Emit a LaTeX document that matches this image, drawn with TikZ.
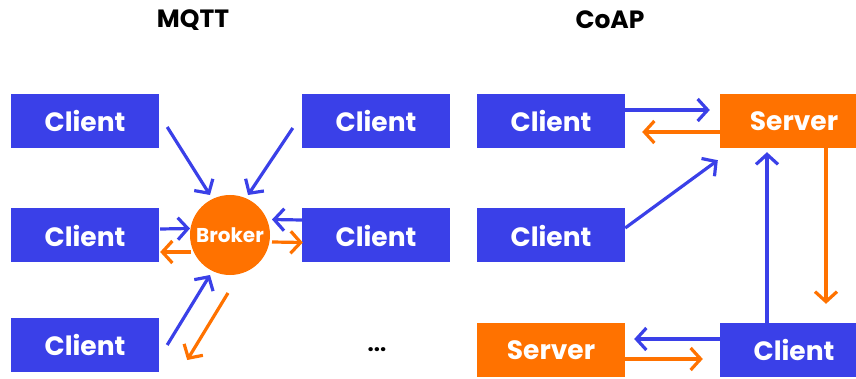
\documentclass[tikz,border=0pt]{standalone}
\usepackage{fontspec}
\setmainfont{Poppins}
\usetikzlibrary{arrows.meta,calc}
\definecolor{cblue}{RGB}{58,64,232}
\definecolor{corange}{RGB}{255,114,0}
\begin{document}
\begin{tikzpicture}[x=1pt,y=-1pt,
  box/.style={rectangle,minimum width=148pt,minimum height=54pt,inner sep=0pt,text=white,font=\fontsize{26.5}{28}\selectfont\bfseries},
  bluebox/.style={box,fill=cblue},
  orangebox/.style={box,fill=corange},
  title/.style={font=\fontsize{25}{28}\selectfont\bfseries,text=black},
  barrow/.style={draw=cblue,line width=3.2pt,-{Straight Barb[length=10pt,width=22pt,line width=3.2pt]}},
  oarrow/.style={draw=corange,line width=3.2pt,-{Straight Barb[length=10pt,width=22pt,line width=3.2pt]}}]
\useasboundingbox (0,0) rectangle (856,379);
\clip (0,0) rectangle (856,379);
% titles
\node[title] (tm) at (193,20) {MQTT};
\node[title] (tc) at (610,20) {CoAP};
% MQTT
\node[bluebox] (tl) at (85,121) {Client};
\node[bluebox] (ml) at (85,235.5) {Client};
\node[bluebox] (bl) at (85,345) {Client};
\node[bluebox] (tr) at (376,121) {Client};
\node[bluebox] (mr) at (376,235.5) {Client};
\node[circle,fill=corange,minimum size=80pt,inner sep=0pt,text=white,font=\fontsize{20}{22}\selectfont\bfseries] (br) at (230,235) {Broker};
\node[font=\fontsize{22}{24}\selectfont\bfseries] (dots) at (377,350) {...};
\draw[barrow] ($(tl.east)+(8,6)$) -- ($(br.center)+(-20,-40)$);
\draw[barrow] ($(tr.west)+(-9,7)$) -- ($(br.center)+(18,-40)$);
\draw[barrow] ($(ml.east)+(1,-6.5)$) -- ($(br.center)+(-40,-6.5)$);
\draw[oarrow] ($(br.center)+(-39,17)$) -- ($(ml.east)+(1,16.5)$);
\draw[barrow] ($(mr.west)+(0,-15.5)$) -- ($(br.center)+(42,-15.5)$);
\draw[oarrow] ($(br.center)+(42,7)$) -- ($(mr.west)+(1,7)$);
\draw[barrow] ($(bl.east)+(8,0)$) -- ($(br.center)+(-20,40)$);
\draw[oarrow] ($(br.center)+(-2,58)$) -- ($(bl.east)+(28,15)$);
% CoAP
\node[bluebox] (c1) at (551,121) {Client};
\node[bluebox] (c2) at (551,235.5) {Client};
\node[orangebox] (s1) at (794,121) {Server};
\node[orangebox] (s2) at (551,350) {Server};
\node[bluebox] (c3) at (794,350) {Client};
\draw[barrow] ($(c1.east)+(0,-11)$) -- ($(s1.west)+(-10,-11)$);
\draw[oarrow] ($(s1.west)+(0,11)$) -- ($(c1.east)+(17,11)$);
\draw[barrow] ($(c2.east)+(0,-7.5)$) -- ($(s1.south west)+(-2,12)$);
\draw[barrow] ($(c3.north)+(-27,0)$) -- ($(s1.south)+(-27,4)$);
\draw[oarrow] ($(s1.south)+(32,0)$) -- ($(c3.north)+(32,-19)$);
\draw[barrow] ($(c3.west)+(0,-11)$) -- ($(s2.east)+(9,-11)$);
\draw[oarrow] ($(s2.east)+(0,9)$) -- ($(c3.west)+(-17,9)$);
\end{tikzpicture}
\end{document}
